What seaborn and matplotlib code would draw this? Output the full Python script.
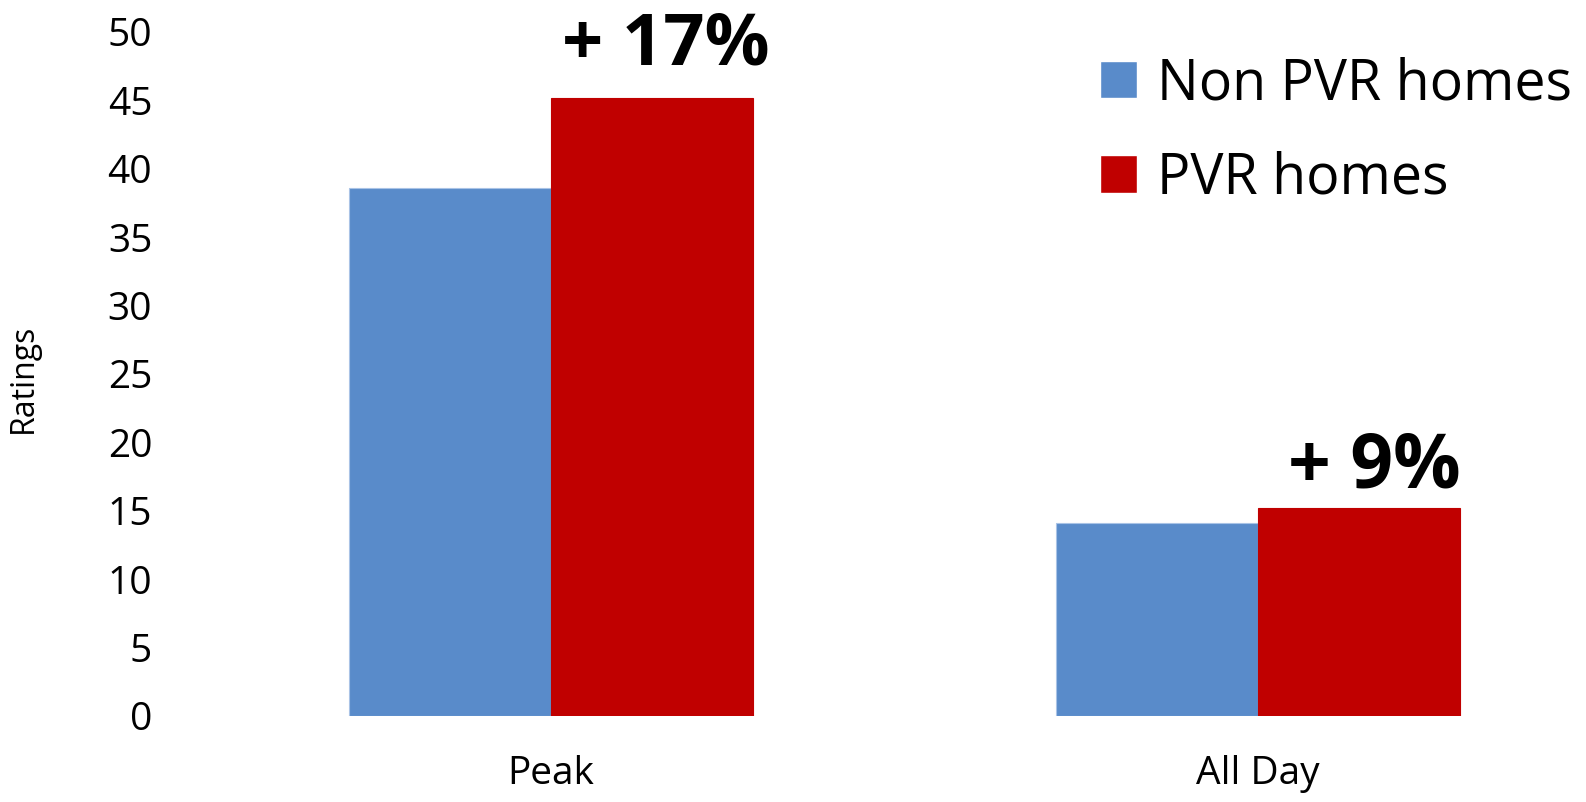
import matplotlib
matplotlib.use("Agg")
import matplotlib.pyplot as plt
import seaborn as sns
import pandas as pd

# Ratings by time slot for homes with and without a PVR
periods = ["Peak", "All Day"]
groups = ["Non PVR homes", "PVR homes"]
non_pvr = [38.6, 14.1]
pvr = [45.2, 15.2]
uplift_labels = ["+ 17%", "+ 9%"]
y_ticks = [0, 5, 10, 15, 20, 25, 30, 35, 40, 45, 50]

colors = {"Non PVR homes": "#598BCA", "PVR homes": "#C00000"}

df = pd.DataFrame({
    "period": periods * 2,
    "group": [groups[0]] * len(periods) + [groups[1]] * len(periods),
    "rating": non_pvr + pvr,
})

sns.set_theme(style="white")
plt.rcParams["font.family"] = ["Open Sans", "DejaVu Sans"]

W, H = 1586, 802
fig = plt.figure(figsize=(W / 100, H / 100), dpi=100)

# axes placed in pixel terms: zero line at y=716, 50 at y=32
left_px, bottom_px, top_px = 180, 716, 32
ax = fig.add_axes([left_px / W, (H - bottom_px) / H, 1 - left_px / W, (bottom_px - top_px) / H])

sns.barplot(data=df, x="period", y="rating", hue="group", order=periods,
            hue_order=groups, palette=colors, saturation=1, width=0.571,
            gap=0, ax=ax, legend=True)

for container, c in zip(ax.containers, ["#A9C3E6", "#C00000"]):
    for p in container:
        p.set_edgecolor(c)
        p.set_linewidth(0.8)

# category centres at x=551 and x=1258 px
px_per_cat = 707
ax.set_xlim((left_px - 551) / px_per_cat, (W - 551) / px_per_cat)
ax.set_ylim(0, 50)
ax.set_yticks(y_ticks)
ax.set_yticklabels([str(t) for t in y_ticks])

for s in ax.spines.values():
    s.set_visible(False)
ax.tick_params(axis="y", length=0, pad=20, labelsize=28, labelcolor="black")
ax.tick_params(axis="x", length=0, pad=28, labelsize=28, labelcolor="black")
ax.set_xlabel("")
ax.set_ylabel("")

fig.text(23 / W, 1 - 378 / H, "Ratings", rotation=90, ha="center", va="center",
         fontsize=23, color="black")

# uplift annotations above the PVR bars
label_offsets = [(10, 24), (11, 15)]
label_sizes = [52, 54]
for bar, text, off, fs in zip(ax.containers[1], uplift_labels, label_offsets, label_sizes):
    ax.annotate(text, xy=(bar.get_x() + bar.get_width() / 2, bar.get_height()),
                xytext=off, textcoords="offset points", ha="center",
                va="baseline", fontsize=fs, fontweight="bold", color="black")

leg = ax.legend(loc="upper left", bbox_to_anchor=(1100 / W, 1 - 56 / H),
                bbox_transform=fig.transFigure, frameon=False, fontsize=40,
                handlelength=0.67, handleheight=0.67, handletextpad=0.35,
                labelspacing=0.67, borderaxespad=0, borderpad=0)
for t in leg.get_texts():
    t.set_color("black")

fig.savefig("out.png", dpi=100)
